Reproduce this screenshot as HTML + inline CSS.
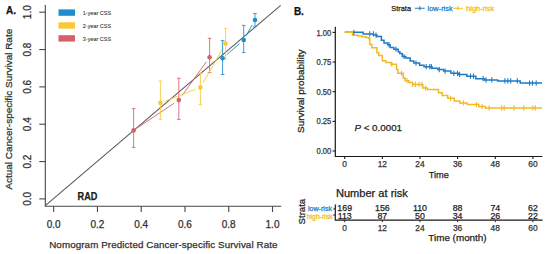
<!DOCTYPE html><html><head><meta charset="utf-8"><style>html,body{margin:0;padding:0;background:#fff;width:550px;height:254px;overflow:hidden}svg{display:block}text{font-family:"Liberation Sans",sans-serif}.r text{stroke-width:0.25}</style></head><body>
<svg width="550" height="254" viewBox="0 0 550 254">
<rect width="550" height="254" fill="#fff"/>
<path d="M45.3 5 V206.2 H281.2" fill="none" stroke="#474747" stroke-width="1.1"/>
<line x1="39.3" y1="198.90" x2="45.3" y2="198.90" stroke="#474747" stroke-width="1.1"/>
<line x1="53.70" y1="206.2" x2="53.70" y2="212" stroke="#474747" stroke-width="1.1"/>
<text x="53.70" y="228.2" font-size="10" fill="#303030" text-anchor="middle" stroke="#303030" stroke-width="0.25">0.0</text>
<text transform="translate(31.3 198.90) rotate(-90)" font-size="10" fill="#303030" text-anchor="middle" stroke="#303030" stroke-width="0.25">0.0</text>
<line x1="39.3" y1="161.56" x2="45.3" y2="161.56" stroke="#474747" stroke-width="1.1"/>
<line x1="97.46" y1="206.2" x2="97.46" y2="212" stroke="#474747" stroke-width="1.1"/>
<text x="97.46" y="228.2" font-size="10" fill="#303030" text-anchor="middle" stroke="#303030" stroke-width="0.25">0.2</text>
<text transform="translate(31.3 161.56) rotate(-90)" font-size="10" fill="#303030" text-anchor="middle" stroke="#303030" stroke-width="0.25">0.2</text>
<line x1="39.3" y1="124.22" x2="45.3" y2="124.22" stroke="#474747" stroke-width="1.1"/>
<line x1="141.22" y1="206.2" x2="141.22" y2="212" stroke="#474747" stroke-width="1.1"/>
<text x="141.22" y="228.2" font-size="10" fill="#303030" text-anchor="middle" stroke="#303030" stroke-width="0.25">0.4</text>
<text transform="translate(31.3 124.22) rotate(-90)" font-size="10" fill="#303030" text-anchor="middle" stroke="#303030" stroke-width="0.25">0.4</text>
<line x1="39.3" y1="86.88" x2="45.3" y2="86.88" stroke="#474747" stroke-width="1.1"/>
<line x1="184.98" y1="206.2" x2="184.98" y2="212" stroke="#474747" stroke-width="1.1"/>
<text x="184.98" y="228.2" font-size="10" fill="#303030" text-anchor="middle" stroke="#303030" stroke-width="0.25">0.6</text>
<text transform="translate(31.3 86.88) rotate(-90)" font-size="10" fill="#303030" text-anchor="middle" stroke="#303030" stroke-width="0.25">0.6</text>
<line x1="39.3" y1="49.54" x2="45.3" y2="49.54" stroke="#474747" stroke-width="1.1"/>
<line x1="228.74" y1="206.2" x2="228.74" y2="212" stroke="#474747" stroke-width="1.1"/>
<text x="228.74" y="228.2" font-size="10" fill="#303030" text-anchor="middle" stroke="#303030" stroke-width="0.25">0.8</text>
<text transform="translate(31.3 49.54) rotate(-90)" font-size="10" fill="#303030" text-anchor="middle" stroke="#303030" stroke-width="0.25">0.8</text>
<line x1="39.3" y1="12.20" x2="45.3" y2="12.20" stroke="#474747" stroke-width="1.1"/>
<line x1="272.50" y1="206.2" x2="272.50" y2="212" stroke="#474747" stroke-width="1.1"/>
<text x="272.50" y="228.2" font-size="10" fill="#303030" text-anchor="middle" stroke="#303030" stroke-width="0.25">1.0</text>
<text transform="translate(31.3 12.20) rotate(-90)" font-size="10" fill="#303030" text-anchor="middle" stroke="#303030" stroke-width="0.25">1.0</text>
<line x1="45.3" y1="205.7" x2="280.7" y2="5.4" stroke="#5a5a5a" stroke-width="1.1"/>
<text x="49.2" y="248.2" font-size="9.8" fill="#303030" textLength="228.3" lengthAdjust="spacing" stroke="#303030" stroke-width="0.25">Nomogram Predicted Cancer-specific Survival Rate</text>
<text transform="translate(12.3 189.6) rotate(-90)" font-size="9.8" fill="#303030" textLength="160.8" lengthAdjust="spacingAndGlyphs" stroke="#303030" stroke-width="0.25">Actual Cancer-specific Survival Rate</text>
<text x="6" y="14.2" font-size="10" font-weight="bold" fill="#111" stroke="#111" stroke-width="0.25">A.</text>
<text x="77.6" y="199.7" font-size="10" font-weight="bold" fill="#1a1a1a" textLength="19.8" lengthAdjust="spacingAndGlyphs" stroke="#1a1a1a" stroke-width="0.25">RAD</text>
<rect x="58.5" y="9.40" width="16.5" height="6.4" fill="#1f8dcc"/>
<text x="82.8" y="15.30" font-size="6.1" fill="#3a3a3a" stroke="#3a3a3a" stroke-width="0.1" textLength="28.3" lengthAdjust="spacingAndGlyphs">1-year CSS</text>
<rect x="58.5" y="22.30" width="16.5" height="6.4" fill="#f9c935"/>
<text x="82.8" y="28.20" font-size="6.1" fill="#3a3a3a" stroke="#3a3a3a" stroke-width="0.1" textLength="28.3" lengthAdjust="spacingAndGlyphs">2-year CSS</text>
<rect x="58.5" y="35.20" width="16.5" height="6.4" fill="#d6606a"/>
<text x="82.8" y="41.10" font-size="6.1" fill="#3a3a3a" stroke="#3a3a3a" stroke-width="0.1" textLength="28.3" lengthAdjust="spacingAndGlyphs">3-year CSS</text>
<line x1="138.17" y1="127.34" x2="174.23" y2="103.16" stroke="#d6606a" stroke-width="1" stroke-opacity="0.9"/>
<line x1="182.01" y1="95.64" x2="206.39" y2="61.76" stroke="#d6606a" stroke-width="1" stroke-opacity="0.9"/>
<path d="M133.60 108.6 V147.4 M131.80 108.6 h3.6 M131.80 147.4 h3.6" stroke="#d6606a" stroke-width="1" stroke-opacity="0.85" fill="none"/>
<circle cx="133.6" cy="130.4" r="2.3" fill="#d6606a"/>
<path d="M178.80 78.2 V119.4 M177.00 78.2 h3.6 M177.00 119.4 h3.6" stroke="#d6606a" stroke-width="1" stroke-opacity="0.85" fill="none"/>
<circle cx="178.8" cy="100.1" r="2.3" fill="#d6606a"/>
<path d="M209.60 38.3 V72.5 M207.80 38.3 h3.6 M207.80 72.5 h3.6" stroke="#d6606a" stroke-width="1" stroke-opacity="0.85" fill="none"/>
<circle cx="209.6" cy="57.3" r="2.3" fill="#d6606a"/>
<line x1="165.53" y1="100.91" x2="195.27" y2="89.39" stroke="#f9c935" stroke-width="1" stroke-opacity="0.9"/>
<line x1="203.14" y1="82.63" x2="222.86" y2="48.37" stroke="#f9c935" stroke-width="1" stroke-opacity="0.9"/>
<path d="M160.40 81 V119.2 M158.60 81 h3.6 M158.60 119.2 h3.6" stroke="#f9c935" stroke-width="1" stroke-opacity="0.85" fill="none"/>
<circle cx="160.4" cy="102.9" r="2.3" fill="#f9c935"/>
<path d="M200.40 73 V104.7 M198.60 73 h3.6 M198.60 104.7 h3.6" stroke="#f9c935" stroke-width="1" stroke-opacity="0.85" fill="none"/>
<circle cx="200.4" cy="87.4" r="2.3" fill="#f9c935"/>
<path d="M225.60 28.3 V59 M223.80 28.3 h3.6 M223.80 59 h3.6" stroke="#f9c935" stroke-width="1" stroke-opacity="0.85" fill="none"/>
<circle cx="225.6" cy="43.6" r="2.3" fill="#f9c935"/>
<line x1="226.75" y1="54.70" x2="239.55" y2="43.60" stroke="#1f8dcc" stroke-width="1" stroke-opacity="0.9"/>
<line x1="246.41" y1="35.21" x2="252.29" y2="24.79" stroke="#1f8dcc" stroke-width="1" stroke-opacity="0.9"/>
<path d="M222.60 40.6 V74.5 M220.80 40.6 h3.6 M220.80 74.5 h3.6" stroke="#1f8dcc" stroke-width="1" stroke-opacity="0.85" fill="none"/>
<circle cx="222.6" cy="58.3" r="2.3" fill="#1f8dcc"/>
<path d="M243.70 25.4 V52.6 M241.90 25.4 h3.6 M241.90 52.6 h3.6" stroke="#1f8dcc" stroke-width="1" stroke-opacity="0.85" fill="none"/>
<circle cx="243.7" cy="40" r="2.3" fill="#1f8dcc"/>
<path d="M255.00 13.5 V26.7 M253.20 13.5 h3.6 M253.20 26.7 h3.6" stroke="#1f8dcc" stroke-width="1" stroke-opacity="0.85" fill="none"/>
<circle cx="255" cy="20" r="2.3" fill="#1f8dcc"/>
<text x="293.9" y="15.3" font-size="10" font-weight="bold" fill="#111" stroke="#111" stroke-width="0.25">B.</text>
<path d="M335.3 26.8 V156.5 H542.4" fill="none" stroke="#1a1a1a" stroke-width="1.2"/>
<line x1="332.6" y1="151.00" x2="335.3" y2="151.00" stroke="#1a1a1a" stroke-width="1.1"/>
<text x="331.3" y="154.10" font-size="8.5" fill="#333" text-anchor="end" textLength="14.8" lengthAdjust="spacingAndGlyphs" stroke="#333" stroke-width="0.25">0.00</text>
<line x1="332.6" y1="121.35" x2="335.3" y2="121.35" stroke="#1a1a1a" stroke-width="1.1"/>
<text x="331.3" y="124.45" font-size="8.5" fill="#333" text-anchor="end" textLength="14.8" lengthAdjust="spacingAndGlyphs" stroke="#333" stroke-width="0.25">0.25</text>
<line x1="332.6" y1="91.70" x2="335.3" y2="91.70" stroke="#1a1a1a" stroke-width="1.1"/>
<text x="331.3" y="94.80" font-size="8.5" fill="#333" text-anchor="end" textLength="14.8" lengthAdjust="spacingAndGlyphs" stroke="#333" stroke-width="0.25">0.50</text>
<line x1="332.6" y1="62.05" x2="335.3" y2="62.05" stroke="#1a1a1a" stroke-width="1.1"/>
<text x="331.3" y="65.15" font-size="8.5" fill="#333" text-anchor="end" textLength="14.8" lengthAdjust="spacingAndGlyphs" stroke="#333" stroke-width="0.25">0.75</text>
<line x1="332.6" y1="32.40" x2="335.3" y2="32.40" stroke="#1a1a1a" stroke-width="1.1"/>
<text x="331.3" y="35.50" font-size="8.5" fill="#333" text-anchor="end" textLength="14.8" lengthAdjust="spacingAndGlyphs" stroke="#333" stroke-width="0.25">1.00</text>
<line x1="344.70" y1="156.5" x2="344.70" y2="158.9" stroke="#1a1a1a" stroke-width="1.1"/>
<text x="344.70" y="167.2" font-size="8.4" fill="#333" text-anchor="middle" stroke="#333" stroke-width="0.25">0</text>
<line x1="382.34" y1="156.5" x2="382.34" y2="158.9" stroke="#1a1a1a" stroke-width="1.1"/>
<text x="382.34" y="167.2" font-size="8.4" fill="#333" text-anchor="middle" stroke="#333" stroke-width="0.25">12</text>
<line x1="419.99" y1="156.5" x2="419.99" y2="158.9" stroke="#1a1a1a" stroke-width="1.1"/>
<text x="419.99" y="167.2" font-size="8.4" fill="#333" text-anchor="middle" stroke="#333" stroke-width="0.25">24</text>
<line x1="457.63" y1="156.5" x2="457.63" y2="158.9" stroke="#1a1a1a" stroke-width="1.1"/>
<text x="457.63" y="167.2" font-size="8.4" fill="#333" text-anchor="middle" stroke="#333" stroke-width="0.25">36</text>
<line x1="495.28" y1="156.5" x2="495.28" y2="158.9" stroke="#1a1a1a" stroke-width="1.1"/>
<text x="495.28" y="167.2" font-size="8.4" fill="#333" text-anchor="middle" stroke="#333" stroke-width="0.25">48</text>
<line x1="532.92" y1="156.5" x2="532.92" y2="158.9" stroke="#1a1a1a" stroke-width="1.1"/>
<text x="532.92" y="167.2" font-size="8.4" fill="#333" text-anchor="middle" stroke="#333" stroke-width="0.25">60</text>
<text x="428.7" y="177.8" font-size="9.2" fill="#222" stroke="#222" stroke-width="0.25">Time</text>
<text transform="translate(304.4 133) rotate(-90)" font-size="9.6" fill="#222" textLength="83.5" lengthAdjust="spacingAndGlyphs" stroke="#222" stroke-width="0.25">Survival probability</text>
<text x="354.4" y="130.8" font-size="9.8" fill="#222" stroke="#222" stroke-width="0.25"><tspan font-style="italic">P</tspan> &lt; 0.0001</text>
<text x="391.3" y="10.9" font-size="7.4" fill="#222" stroke="#222" stroke-width="0.25">Strata</text>
<path d="M414.9 8.3 H424.7 M419.8 6.3 V10.3" stroke="#1f7ac4" stroke-width="1.1"/>
<text x="427.6" y="10.9" font-size="7.4" fill="#1f7ac4" stroke="#1f7ac4" stroke-width="0.25">low-risk</text>
<path d="M453.1 8.3 H462.9 M458 6.3 V10.3" stroke="#f4b826" stroke-width="1.1"/>
<text x="466.2" y="10.9" font-size="7.4" fill="#f4b826" stroke="#f4b826" stroke-width="0.25">high-risk</text>
<path d="M344.7 32.3 H363.1 V33.9 H373.5 V35.1 H376.9 V36.6 H381.4 V40.3 H384 V43 H387.6 V44.7 H390.2 V47.4 H393.8 V49.2 H398.2 V51.8 H399.8 V53.6 H402.2 V56.5 H405.8 V58 H410.2 V60.9 H413.8 V63.1 H419.6 V65.3 H424 V66.7 H432 V68.2 H437.8 V69.6 H443.6 V71.1 H450.9 V73.3 H458.2 V74.4 H466.9 V76.2 H475.8 V78.7 H484.5 V79.9 H497.6 V80.9 H520.2 V83.1 H542" fill="none" stroke="#1f7ac4" stroke-width="1.5"/>
<path d="M344.7 32.3 H352.5 V35.3 H358 V36 H362 V36.7 H366 V37.6 H368.6 V38.6 H369.8 V44.5 H371.8 V47.8 H376.9 V52.7 H378.7 V55.4 H382.3 V60.7 H385.8 V62.5 H391.1 V64.3 H396.5 V69.6 H397.8 V73.3 H403.3 V78 H405.2 V80.7 H408.9 V82.6 H412.6 V84.4 H422.8 V88.1 H427.4 V89.4 H438.5 V92.8 H442.2 V95.6 H447.8 V98.3 H454.3 V101.1 H459.8 V103 H467.2 V104.5 H478.8 V106.4 H485.4 V107.9 H542" fill="none" stroke="#f4b826" stroke-width="1.5"/>
<line x1="353.9" y1="29.699999999999996" x2="353.9" y2="34.9" stroke="#1f7ac4" stroke-width="1.1"/>
<line x1="369.8" y1="31.299999999999997" x2="369.8" y2="36.5" stroke="#1f7ac4" stroke-width="1.1"/>
<line x1="373.4" y1="31.299999999999997" x2="373.4" y2="36.5" stroke="#1f7ac4" stroke-width="1.1"/>
<line x1="376" y1="32.5" x2="376" y2="37.7" stroke="#1f7ac4" stroke-width="1.1"/>
<line x1="389" y1="42.1" x2="389" y2="47.300000000000004" stroke="#1f7ac4" stroke-width="1.1"/>
<line x1="396" y1="46.6" x2="396" y2="51.800000000000004" stroke="#1f7ac4" stroke-width="1.1"/>
<line x1="404" y1="53.9" x2="404" y2="59.1" stroke="#1f7ac4" stroke-width="1.1"/>
<line x1="416" y1="60.5" x2="416" y2="65.7" stroke="#1f7ac4" stroke-width="1.1"/>
<line x1="426.2" y1="64.10000000000001" x2="426.2" y2="69.3" stroke="#1f7ac4" stroke-width="1.1"/>
<line x1="429.8" y1="64.10000000000001" x2="429.8" y2="69.3" stroke="#1f7ac4" stroke-width="1.1"/>
<line x1="431.3" y1="64.10000000000001" x2="431.3" y2="69.3" stroke="#1f7ac4" stroke-width="1.1"/>
<line x1="439.3" y1="67.0" x2="439.3" y2="72.19999999999999" stroke="#1f7ac4" stroke-width="1.1"/>
<line x1="445.1" y1="68.5" x2="445.1" y2="73.69999999999999" stroke="#1f7ac4" stroke-width="1.1"/>
<line x1="453.8" y1="70.7" x2="453.8" y2="75.89999999999999" stroke="#1f7ac4" stroke-width="1.1"/>
<line x1="457.5" y1="70.7" x2="457.5" y2="75.89999999999999" stroke="#1f7ac4" stroke-width="1.1"/>
<line x1="459.6" y1="71.80000000000001" x2="459.6" y2="77.0" stroke="#1f7ac4" stroke-width="1.1"/>
<line x1="470.5" y1="73.60000000000001" x2="470.5" y2="78.8" stroke="#1f7ac4" stroke-width="1.1"/>
<line x1="473.5" y1="73.60000000000001" x2="473.5" y2="78.8" stroke="#1f7ac4" stroke-width="1.1"/>
<line x1="483.1" y1="76.10000000000001" x2="483.1" y2="81.3" stroke="#1f7ac4" stroke-width="1.1"/>
<line x1="486" y1="77.30000000000001" x2="486" y2="82.5" stroke="#1f7ac4" stroke-width="1.1"/>
<line x1="491.8" y1="77.30000000000001" x2="491.8" y2="82.5" stroke="#1f7ac4" stroke-width="1.1"/>
<line x1="504.9" y1="78.30000000000001" x2="504.9" y2="83.5" stroke="#1f7ac4" stroke-width="1.1"/>
<line x1="507.8" y1="78.30000000000001" x2="507.8" y2="83.5" stroke="#1f7ac4" stroke-width="1.1"/>
<line x1="510.7" y1="78.30000000000001" x2="510.7" y2="83.5" stroke="#1f7ac4" stroke-width="1.1"/>
<line x1="517.3" y1="78.30000000000001" x2="517.3" y2="83.5" stroke="#1f7ac4" stroke-width="1.1"/>
<line x1="529.6" y1="80.5" x2="529.6" y2="85.69999999999999" stroke="#1f7ac4" stroke-width="1.1"/>
<line x1="532.5" y1="80.5" x2="532.5" y2="85.69999999999999" stroke="#1f7ac4" stroke-width="1.1"/>
<line x1="536.2" y1="80.5" x2="536.2" y2="85.69999999999999" stroke="#1f7ac4" stroke-width="1.1"/>
<line x1="369.5" y1="36.0" x2="369.5" y2="41.2" stroke="#f4b826" stroke-width="1.1"/>
<line x1="391.8" y1="61.699999999999996" x2="391.8" y2="66.89999999999999" stroke="#f4b826" stroke-width="1.1"/>
<line x1="401.5" y1="70.7" x2="401.5" y2="75.89999999999999" stroke="#f4b826" stroke-width="1.1"/>
<line x1="407" y1="78.10000000000001" x2="407" y2="83.3" stroke="#f4b826" stroke-width="1.1"/>
<line x1="412.6" y1="81.80000000000001" x2="412.6" y2="87.0" stroke="#f4b826" stroke-width="1.1"/>
<line x1="415.4" y1="81.80000000000001" x2="415.4" y2="87.0" stroke="#f4b826" stroke-width="1.1"/>
<line x1="419.1" y1="81.80000000000001" x2="419.1" y2="87.0" stroke="#f4b826" stroke-width="1.1"/>
<line x1="421.9" y1="81.80000000000001" x2="421.9" y2="87.0" stroke="#f4b826" stroke-width="1.1"/>
<line x1="425.6" y1="85.5" x2="425.6" y2="90.69999999999999" stroke="#f4b826" stroke-width="1.1"/>
<line x1="450.6" y1="95.7" x2="450.6" y2="100.89999999999999" stroke="#f4b826" stroke-width="1.1"/>
<line x1="463.5" y1="100.4" x2="463.5" y2="105.6" stroke="#f4b826" stroke-width="1.1"/>
<line x1="476.4" y1="101.9" x2="476.4" y2="107.1" stroke="#f4b826" stroke-width="1.1"/>
<line x1="482.1" y1="103.80000000000001" x2="482.1" y2="109.0" stroke="#f4b826" stroke-width="1.1"/>
<line x1="489.1" y1="105.30000000000001" x2="489.1" y2="110.5" stroke="#f4b826" stroke-width="1.1"/>
<line x1="501.7" y1="105.30000000000001" x2="501.7" y2="110.5" stroke="#f4b826" stroke-width="1.1"/>
<line x1="504.2" y1="105.30000000000001" x2="504.2" y2="110.5" stroke="#f4b826" stroke-width="1.1"/>
<line x1="514" y1="105.30000000000001" x2="514" y2="110.5" stroke="#f4b826" stroke-width="1.1"/>
<line x1="523.8" y1="105.30000000000001" x2="523.8" y2="110.5" stroke="#f4b826" stroke-width="1.1"/>
<line x1="532.8" y1="105.30000000000001" x2="532.8" y2="110.5" stroke="#f4b826" stroke-width="1.1"/>
<line x1="535.3" y1="105.30000000000001" x2="535.3" y2="110.5" stroke="#f4b826" stroke-width="1.1"/>
<text x="335.9" y="196.5" font-size="10.4" fill="#222" textLength="72" lengthAdjust="spacingAndGlyphs" stroke="#222" stroke-width="0.25">Number at risk</text>
<path d="M335.3 204.4 V220.2 H542.6" fill="none" stroke="#1a1a1a" stroke-width="1.2"/>
<line x1="333.2" y1="208.9" x2="335.2" y2="208.9" stroke="#222" stroke-width="1"/>
<line x1="333.2" y1="215" x2="335.2" y2="215" stroke="#222" stroke-width="1"/>
<text x="332" y="210.8" font-size="7.1" fill="#1f7ac4" text-anchor="end" stroke="#1f7ac4" stroke-width="0.25">low-risk</text>
<text x="332.8" y="218.8" font-size="6.9" fill="#f4b826" text-anchor="end" stroke="#f4b826" stroke-width="0.25">high-risk</text>
<text transform="translate(305 224.4) rotate(-90)" font-size="9.6" fill="#222" stroke="#222" stroke-width="0.25">Strata</text>
<text x="344.70" y="211.3" font-size="8.8" fill="#222" text-anchor="middle" stroke="#222" stroke-width="0.25">169</text>
<text x="344.70" y="219.1" font-size="8.8" fill="#222" text-anchor="middle" stroke="#222" stroke-width="0.25">113</text>
<line x1="344.70" y1="220.2" x2="344.70" y2="222.2" stroke="#222" stroke-width="1"/>
<text x="344.70" y="231" font-size="8.4" fill="#333" text-anchor="middle" stroke="#333" stroke-width="0.25">0</text>
<text x="382.34" y="211.3" font-size="8.8" fill="#222" text-anchor="middle" stroke="#222" stroke-width="0.25">156</text>
<text x="382.34" y="219.1" font-size="8.8" fill="#222" text-anchor="middle" stroke="#222" stroke-width="0.25">87</text>
<line x1="382.34" y1="220.2" x2="382.34" y2="222.2" stroke="#222" stroke-width="1"/>
<text x="382.34" y="231" font-size="8.4" fill="#333" text-anchor="middle" stroke="#333" stroke-width="0.25">12</text>
<text x="419.99" y="211.3" font-size="8.8" fill="#222" text-anchor="middle" stroke="#222" stroke-width="0.25">110</text>
<text x="419.99" y="219.1" font-size="8.8" fill="#222" text-anchor="middle" stroke="#222" stroke-width="0.25">50</text>
<line x1="419.99" y1="220.2" x2="419.99" y2="222.2" stroke="#222" stroke-width="1"/>
<text x="419.99" y="231" font-size="8.4" fill="#333" text-anchor="middle" stroke="#333" stroke-width="0.25">24</text>
<text x="457.63" y="211.3" font-size="8.8" fill="#222" text-anchor="middle" stroke="#222" stroke-width="0.25">88</text>
<text x="457.63" y="219.1" font-size="8.8" fill="#222" text-anchor="middle" stroke="#222" stroke-width="0.25">34</text>
<line x1="457.63" y1="220.2" x2="457.63" y2="222.2" stroke="#222" stroke-width="1"/>
<text x="457.63" y="231" font-size="8.4" fill="#333" text-anchor="middle" stroke="#333" stroke-width="0.25">36</text>
<text x="495.28" y="211.3" font-size="8.8" fill="#222" text-anchor="middle" stroke="#222" stroke-width="0.25">74</text>
<text x="495.28" y="219.1" font-size="8.8" fill="#222" text-anchor="middle" stroke="#222" stroke-width="0.25">26</text>
<line x1="495.28" y1="220.2" x2="495.28" y2="222.2" stroke="#222" stroke-width="1"/>
<text x="495.28" y="231" font-size="8.4" fill="#333" text-anchor="middle" stroke="#333" stroke-width="0.25">48</text>
<text x="532.92" y="211.3" font-size="8.8" fill="#222" text-anchor="middle" stroke="#222" stroke-width="0.25">62</text>
<text x="532.92" y="219.1" font-size="8.8" fill="#222" text-anchor="middle" stroke="#222" stroke-width="0.25">22</text>
<line x1="532.92" y1="220.2" x2="532.92" y2="222.2" stroke="#222" stroke-width="1"/>
<text x="532.92" y="231" font-size="8.4" fill="#333" text-anchor="middle" stroke="#333" stroke-width="0.25">60</text>
<text x="428.3" y="241.3" font-size="9.9" fill="#222" stroke="#222" stroke-width="0.25">Time (month)</text>
</svg></body></html>
